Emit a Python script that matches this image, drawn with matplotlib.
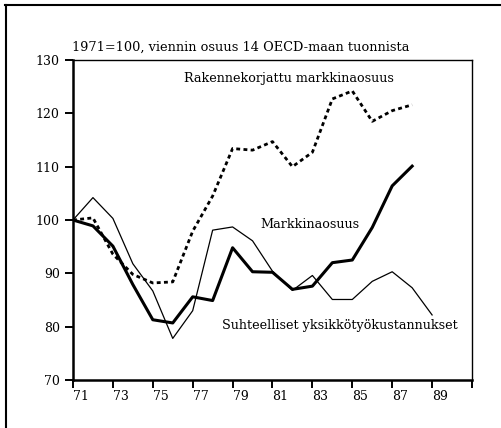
import matplotlib
matplotlib.use("Agg")
import matplotlib.pyplot as plt
from matplotlib.lines import Line2D

# data (1971 = 100)
years_main = list(range(71, 89))
markkinaosuus = [100.0, 98.9, 95.1, 87.9, 81.3, 80.7, 85.6, 84.9, 94.8, 90.3,
                 90.2, 87.0, 87.6, 92.0, 92.5, 98.6, 106.4, 110.1]
rakennekorjattu = [100.0, 100.4, 93.6, 89.8, 88.2, 88.4, 97.9, 104.5, 113.4, 113.1,
                   114.7, 110.0, 112.7, 122.7, 124.2, 118.5, 120.5, 121.6]
years_cost = list(range(71, 90))
yksikkotyokustannukset = [100.0, 104.2, 100.3, 91.8, 86.7, 77.8, 83.0, 98.1, 98.7, 96.1,
                          90.4, 86.8, 89.6, 85.1, 85.1, 88.5, 90.3, 87.3, 82.2]

x_ticks = list(range(71, 92, 2))
x_ticklabels = [str(t) for t in range(71, 90, 2)] + [""]
y_ticks = [70, 80, 90, 100, 110, 120, 130]

plt.rcParams["font.family"] = ["DejaVu Serif"]

fig = plt.figure(figsize=(5.01, 4.28), dpi=100)
ax = fig.add_axes([0.1457, 0.1121, 0.7964, 0.7477])

ax.plot(years_cost, yksikkotyokustannukset, color="black", lw=0.9)
ax.plot(years_main, markkinaosuus, color="black", lw=2.2)
ax.plot(years_main, rakennekorjattu, color="black", lw=2.0,
        linestyle=(0, (1.4, 1.2)))

ax.set_xlim(71, 91)
ax.set_ylim(70, 130)
ax.set_xticks(x_ticks)
ax.set_xticklabels(x_ticklabels)
ax.set_yticks(y_ticks)
ax.tick_params(axis="both", direction="out", length=6, width=1.4,
               labelsize=9, colors="black")
ax.tick_params(axis="x", pad=1)
for lbl in ax.get_xticklabels():
    lbl.set_horizontalalignment("left")
for s in ax.spines.values():
    s.set_linewidth(1.0)
ax.spines["left"].set_linewidth(1.8)
ax.spines["bottom"].set_linewidth(1.8)

ax.text(81.8, 126.5, "Rakennekorjattu markkinaosuus", ha="center",
        va="center", fontsize=9.2)
ax.text(82.9, 99.1, "Markkinaosuus", ha="center", va="center", fontsize=9.2)
ax.text(84.4, 80.3, "Suhteelliset yksikkötyökustannukset", ha="center",
        va="center", fontsize=9.2)
fig.text(0.144, 1 - 47 / 428, "1971=100, viennin osuus 14 OECD-maan tuonnista",
         ha="left", va="center", fontsize=9.3)

# outer frame (top and left edges visible in the scan)
fig.add_artist(Line2D([5 / 501, 1.0], [1 - 5 / 428, 1 - 5 / 428],
                      transform=fig.transFigure, color="black", lw=1.5))
fig.add_artist(Line2D([6 / 501, 6 / 501], [0.0, 1 - 5 / 428],
                      transform=fig.transFigure, color="black", lw=1.5))

fig.savefig("out.png", dpi=100)
